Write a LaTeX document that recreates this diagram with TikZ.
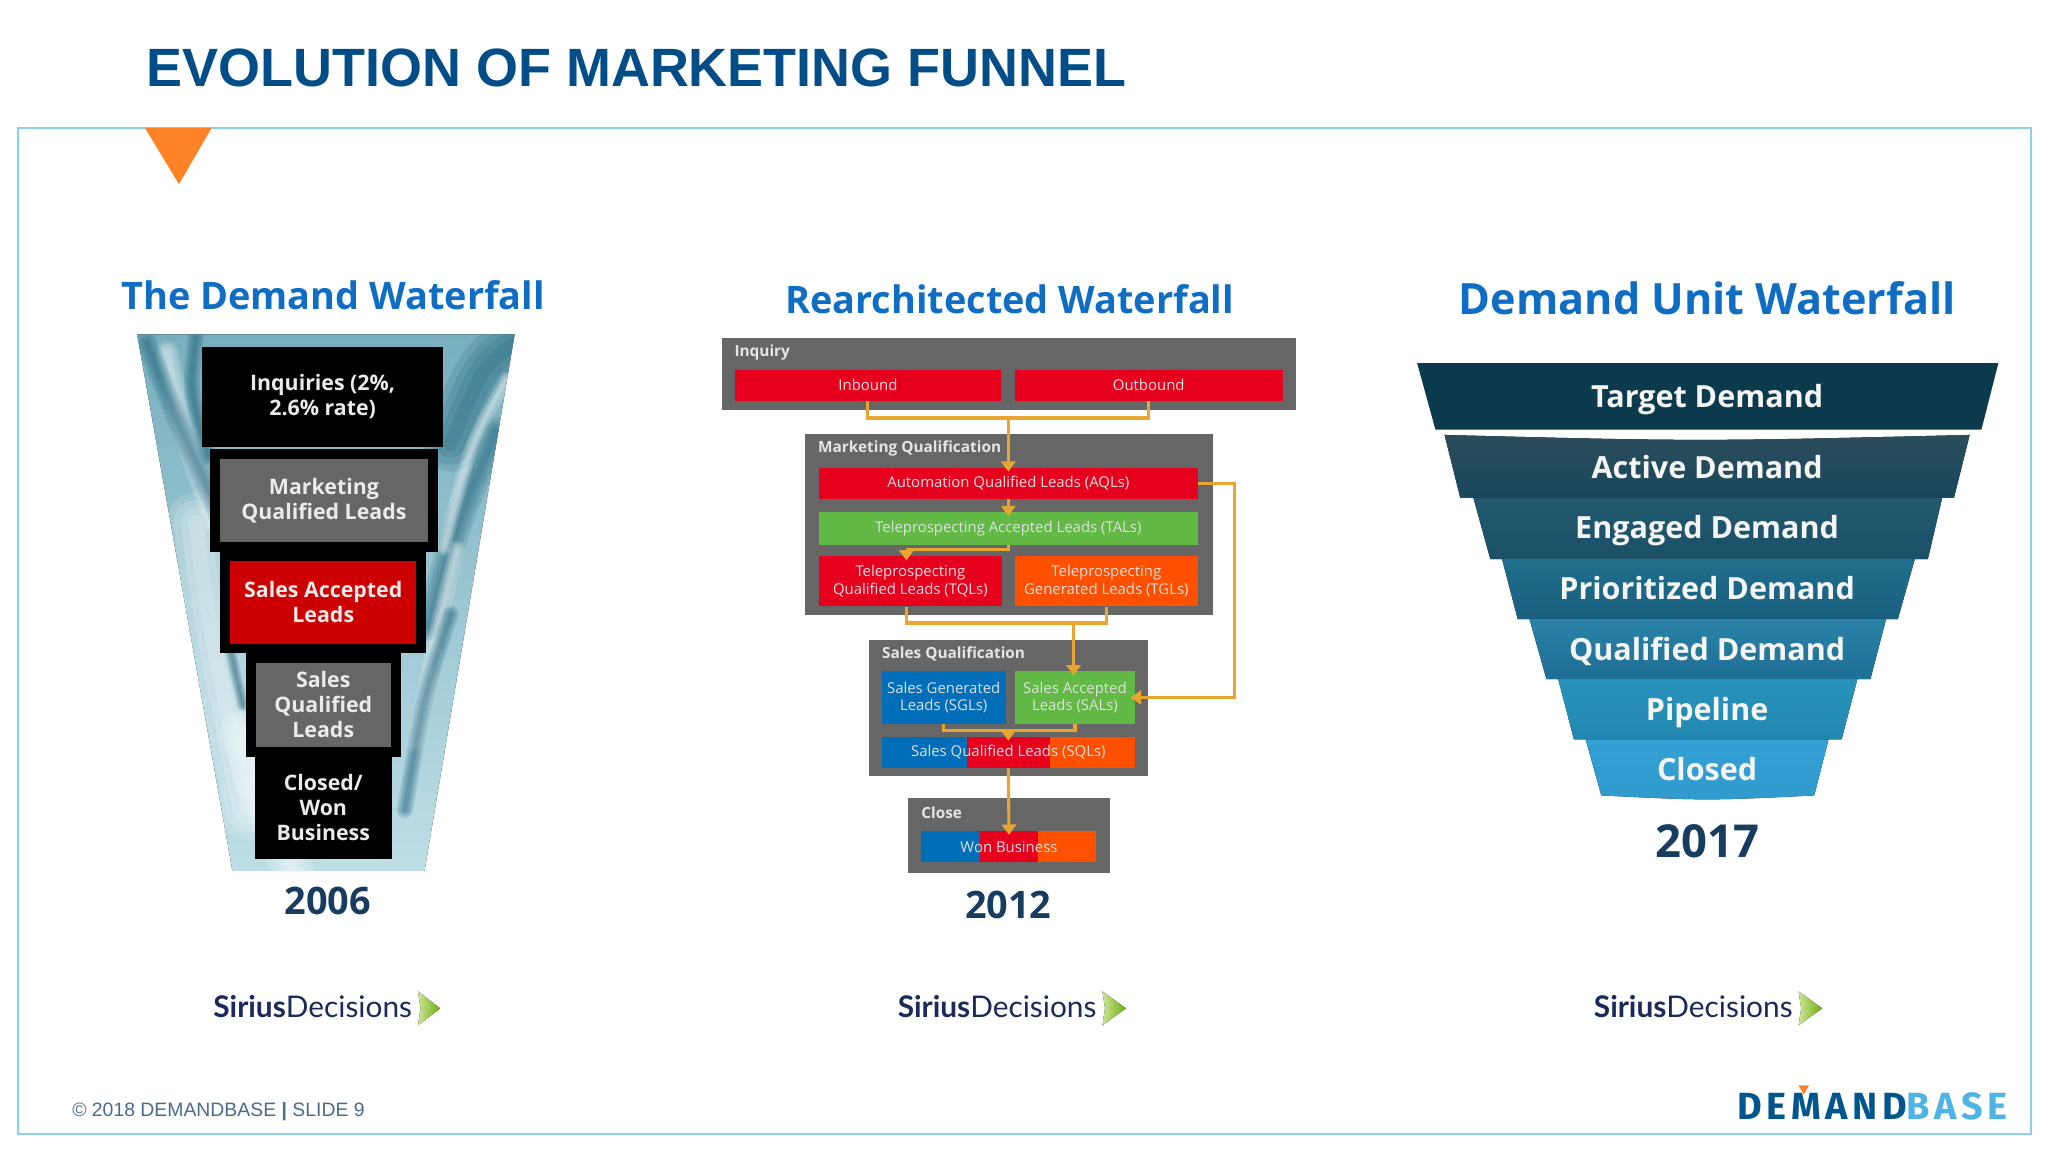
\documentclass[tikz,border=0pt]{standalone}
\usepackage{xcolor}
\usepackage{fontspec}
\usetikzlibrary{arrows.meta}
\setmainfont{Open Sans}
\newfontfamily\headfont{Liberation Sans}
\newfontfamily\logofont{Lato}
\newfontfamily\basefont[LetterSpace=12]{Fira Sans}
\newcommand{\sz}[2]{\fontsize{#1}{#2}\selectfont}
\newcommand{\streak}[3]{\foreach \w in {0.25,0.5,0.75,1}{\draw[#1, line width=\w*#2, opacity=0.16, line cap=round] #3;}}
\definecolor{headblue}{RGB}{0, 77, 135}
\definecolor{framecolor}{RGB}{140, 207, 232}
\definecolor{markorange}{RGB}{255, 130, 38}
\definecolor{sectitle}{RGB}{15, 110, 195}
\definecolor{yearcolor}{RGB}{24, 60, 95}
\definecolor{panelgray}{RGB}{102, 102, 102}
\definecolor{boxred}{RGB}{230, 0, 30}
\definecolor{darkred}{RGB}{204, 0, 0}
\definecolor{boxorange}{RGB}{255, 80, 0}
\definecolor{boxgreen}{RGB}{98, 185, 70}
\definecolor{boxblue}{RGB}{0, 110, 185}
\definecolor{wirecolor}{RGB}{232, 165, 50}
\definecolor{siriusnavy}{RGB}{27, 42, 90}
\definecolor{footcolor}{RGB}{74, 108, 140}
\definecolor{logodark}{RGB}{0, 85, 140}
\definecolor{logolight}{RGB}{77, 180, 228}
\definecolor{arrowpale}{RGB}{205, 228, 150}
\definecolor{arrowgreen}{RGB}{108, 174, 15}
\definecolor{icetop}{RGB}{120, 175, 190}
\definecolor{icebottom}{RGB}{190, 222, 230}
\definecolor{icedark}{RGB}{20, 90, 115}
\definecolor{levela}{RGB}{10, 58, 75}
\definecolor{levelb}{RGB}{42, 77, 92}
\definecolor{levelbb}{RGB}{26, 72, 92}
\definecolor{levelc}{RGB}{33, 90, 111}
\definecolor{levelcc}{RGB}{27, 80, 104}
\definecolor{leveld}{RGB}{31, 109, 140}
\definecolor{leveldd}{RGB}{26, 95, 126}
\definecolor{levele}{RGB}{42, 130, 168}
\definecolor{levelee}{RGB}{31, 110, 148}
\definecolor{levelf}{RGB}{40, 146, 186}
\definecolor{levelff}{RGB}{34, 136, 178}
\definecolor{levelg}{RGB}{52, 160, 211}
\definecolor{levelgg}{RGB}{48, 154, 205}

\begin{document}
\begin{tikzpicture}[x=0.02cm, y=-0.02cm,
    blk/.style 2 args={minimum width=#1*0.02cm, minimum height=#2*0.02cm, inner sep=0pt, align=center},
    lay/.style={fill=panelgray, draw=black, line width=4.3pt},
    laytxt/.style={font=\bfseries\sz{9.3}{10.9}, text=white!92!black},
    sec/.style={font=\bfseries\sz{16.5}{19}, text=sectitle},
    year/.style={font=\bfseries\sz{16.5}{19}, text=yearcolor},
    tag/.style={font=\bfseries\sz{6.7}{8}, text=white!90!black, anchor=west, inner sep=0pt},
    small/.style={font=\sz{6.5}{7.7}, text=white!88!black},
    lev/.style={font=\bfseries\sz{13.3}{15}, text=white!96!black, text height=9.5pt, text depth=0pt, inner sep=0pt},
    sirius/.style={font=\logofont\sz{13}{15}, text=siriusnavy, anchor=west, inner sep=0pt},
    wire/.style={draw=wirecolor, line width=1.35pt},
    wirea/.style={wire, -{Triangle[length=4.5pt,width=6.2pt]}, shorten >=-2pt}]
    \useasboundingbox (0,0) rectangle (1568,882);
    \fill[white] (0,0) rectangle (1568,882);

    \node[font=\headfont\bfseries\sz{23.5}{26}, text=headblue, anchor=west, inner sep=0pt] (title) at (112,52) {EVOLUTION OF MARKETING FUNNEL};
    \draw[framecolor, line width=0.95pt] (13.5,98) rectangle (1555,868);
    \fill[markorange] (111,98)--(162,98)--(137,141)--cycle;

    \node[sec] (sec1) at (255,226) {The Demand Waterfall};
    \begin{scope}
        \clip (105,256)--(394,256)--(325,667)--(178,667)--cycle;
        \fill[top color=icetop, bottom color=icebottom] (90,256) rectangle (400,667);
        \streak{white}{26pt}{(150,400) .. controls (160,480) .. (190,620)}
        \streak{white}{18pt}{(185,560) .. controls (200,610) .. (230,680)}
        \streak{white}{10pt}{(128,270) .. controls (140,330) .. (165,400)}
        \streak{icedark}{9pt}{(112,262) .. controls (135,320) .. (168,395)}
        \streak{icedark}{7pt}{(150,258) .. controls (145,300) .. (160,350)}
        \streak{icedark}{5pt}{(178,440) .. controls (172,480) .. (186,540)}
        \streak{icedark}{24pt}{(395,262) .. controls (370,280) .. (345,340)}
        \streak{icedark}{12pt}{(380,330) .. controls (350,400) .. (328,480)}
        \streak{white}{6pt}{(388,290) .. controls (360,340) .. (340,420)}
        \streak{white}{7pt}{(350,420) .. controls (335,480) .. (318,570)}
        \streak{icedark}{7pt}{(345,470) .. controls (325,530) .. (310,620)}
    \end{scope}
    \node[blk={184}{76}, fill=black, laytxt] (inq) at (247,304) {Inquiries (2\%,\\2.6\% rate)};
    \node[blk={167}{71}, lay, laytxt] (mql) at (248,383) {Marketing\\Qualified Leads};
    \node[blk={150}{71}, lay, fill=darkred, laytxt] (sal1) at (247.5,461) {Sales Accepted\\Leads};
    \node[blk={111}{72}, lay, laytxt] (sql1) at (247.5,539.5) {Sales\\Qualified\\Leads};
    \node[blk={105}{79}, fill=black, laytxt] (won1) at (247.5,618) {Closed/\\Won\\Business};
    \node[year] (y1) at (251,690) {2006};

    \node[sec] (sec2) at (773,229) {Rearchitected Waterfall};
    \node[blk={439}{55}, fill=panelgray] (pinq) at (772.5,286.5) {};
    \node[tag] (tinq) at (562,270) {Inquiry};
    \node[blk={203}{24}, fill=boxred, small] (inb) at (664.5,295) {Inbound};
    \node[blk={205}{24}, fill=boxred, small] (outb) at (879.5,295) {Outbound};
    \node[blk={313}{139}, fill=panelgray] (pmq) at (772.5,401.5) {};
    \node[tag] (tmq) at (626,343) {Marketing Qualification};
    \node[blk={290}{24}, fill=boxred, small] (aql) at (772,370) {Automation Qualified Leads (AQLs)};
    \node[blk={290}{25}, fill=boxgreen, small] (tal) at (772,404.5) {Teleprospecting Accepted Leads (TALs)};
    \node[blk={140}{38}, fill=boxred, small] (tql) at (697,445) {Teleprospecting\\Qualified Leads (TQLs)};
    \node[blk={140}{38}, fill=boxorange, small] (tgl) at (847,445) {Teleprospecting\\Generated Leads (TGLs)};
    \node[blk={214}{104}, fill=panelgray] (psq) at (772,542) {};
    \node[tag] (tsq) at (675,501) {Sales Qualification};
    \node[blk={95}{40}, fill=boxblue, small] (sgl) at (722.5,534) {Sales Generated\\Leads (SGLs)};
    \node[blk={92}{40}, fill=boxgreen, small] (sal) at (823,534) {Sales Accepted\\Leads (SALs)};
    \node[blk={65}{24}, fill=boxblue] (sqa) at (707.5,576) {};
    \node[blk={64}{24}, fill=boxred] (sql) at (772,576) {};
    \node[blk={65}{24}, fill=boxorange] (sqc) at (836.5,576) {};
    \node[small] (tsql) at (772,576) {Sales Qualified Leads (SQLs)};
    \node[blk={155}{57}, fill=panelgray] (pcl) at (772.5,639.5) {};
    \node[tag] (tcl) at (705,622.5) {Close};
    \node[blk={45}{24}, fill=boxblue] (wna) at (727.5,648) {};
    \node[blk={45}{24}, fill=boxred] (wnb) at (772.5,648) {};
    \node[blk={44}{24}, fill=boxorange] (wnc) at (817,648) {};
    \node[small] (twn) at (772.5,648.5) {Won Business};
    \node[year] (y2) at (772,693) {2012};

    \coordinate (j1) at (772,320);
    \coordinate (j2) at (694,421);
    \coordinate (j3) at (822,477);
    \coordinate (j4) at (945,450);
    \coordinate (j5) at (772,559);
    \draw[wire] (inb.south) |- (j1) -| (outb.south);
    \draw[wirea] (j1)--(aql.north);
    \draw[wirea] (aql.south)--(tal.north);
    \draw[wire] (tal.south) |- (j2);
    \draw[wirea] (j2)--(j2 |- tql.north);
    \draw[wire] (tql.south -| j2) |- (j3) -| (tgl.south);
    \draw[wirea] (j3)--(j3 |- sal.north);
    \draw[wire] (aql.east) -| (j4);
    \draw[wirea] (j4) |- (sal.east);
    \draw[wire] (sgl.south) |- (j5) -| (sal.south);
    \draw[wirea] (j5)--(j5 |- sql.north);
    \draw[wirea] (sql.south)--(wnb.north);

    \node[sec, font=\bfseries\sz{18.8}{21}] (sec3) at (1307,228) {Demand Unit Waterfall};
    \fill[levela] (1085,278)--(1530,278)--(1517,329)--(1099,329)--cycle;
    \fill[top color=levelb, bottom color=levelbb] (1106,333) .. controls (1300,338) .. (1508,333)--(1496,381)--(1118,381)--cycle;
    \fill[top color=levelc, bottom color=levelcc] (1128,381)--(1487,381)--(1476,428)--(1141,428)--cycle;
    \fill[top color=leveld, bottom color=leveldd] (1150,428)--(1466,428)--(1453,474)--(1162,474)--cycle;
    \fill[top color=levele, bottom color=levelee] (1171,474)--(1444,474)--(1432,520)--(1184,520)--cycle;
    \fill[top color=levelf, bottom color=levelff] (1193,520)--(1422,520)--(1410,566)--(1205,566)--cycle;
    \fill[top color=levelg, bottom color=levelgg] (1214,566)--(1400,566)--(1389,609) .. controls (1307,613) .. (1226,609)--cycle;
    \node[lev] (d1) at (1307,303.5) {Target Demand};
    \node[lev] (d2) at (1307,358) {Active Demand};
    \node[lev] (d3) at (1307,404) {Engaged Demand};
    \node[lev] (d4) at (1307,451) {Prioritized Demand};
    \node[lev] (d5) at (1307,497) {Qualified Demand};
    \node[lev] (d6) at (1307,543) {Pipeline};
    \node[lev] (d7) at (1307,589) {Closed};
    \node[year, font=\bfseries\sz{19.8}{22}] (y3) at (1307,644) {2017};

    \node[sirius] (sd1) at (163,771) {\textbf{Sirius}Decisions};
    \fill[left color=arrowpale, right color=arrowgreen] (320,759)--(337,772)--(320,785)--(322,772)--cycle;
    \node[sirius] (sd2) at (687,771) {\textbf{Sirius}Decisions};
    \fill[left color=arrowpale, right color=arrowgreen] (844,759)--(862,772)--(844,785)--(846,772)--cycle;
    \node[sirius] (sd3) at (1220,771) {\textbf{Sirius}Decisions};
    \fill[left color=arrowpale, right color=arrowgreen] (1377,759)--(1395,772)--(1377,785)--(1379,772)--cycle;

    \node[font=\headfont\sz{8.45}{11}, text=footcolor, anchor=west, inner sep=0pt] (foot) at (55,851) {© 2018 DEMANDBASE {\bfseries|} SLIDE 9};
    \node[font=\basefont\bfseries\sz{16.5}{18}, anchor=west, inner sep=0pt] (base) at (1330,847) {\textcolor{logodark}{DEMAND}\textcolor{logolight}{BASE}};
    \fill[markorange] (1377,831)--(1385,831)--(1381,838)--cycle;
\end{tikzpicture}
\end{document}
